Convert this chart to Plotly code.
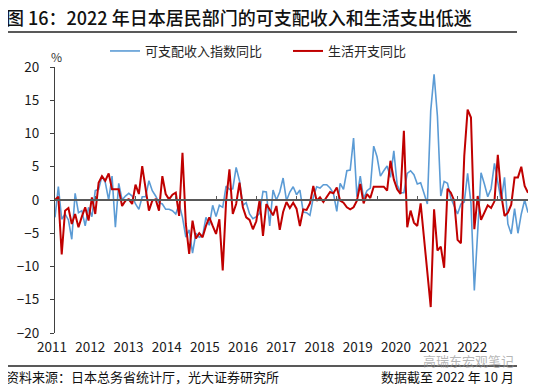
import plotly.graph_objects as go

# ---------------- data ----------------
months = [f"{2011 + k // 12}-{k % 12 + 1:02d}" for k in range(142)]  # 2011-01 ... 2022-10
years = [str(y) for y in range(2011, 2023)]

income_yoy = [
    -2.6, 2.0, -2.9, -2.1, -3.0, -5.9, 1.0, -1.9, -1.6, -3.9, -1.1, -2.5,
    1.4, 1.6, 3.6, 2.6, 0.0, 3.6, -4.1, 2.5, 0.0, 0.6, 1.0, 0.6,
    -0.6, -1.4, 0.5, 0.5, 2.9, 1.4, 0.6, -0.4, -0.6, -1.4, -1.4, -1.6,
    -2.1, -0.6, -2.6, -5.6, -4.5, -8.0, -5.0, -5.6, -5.4, -2.6, -3.8, -0.8,
    -2.5, -0.8, -1.1, 2.1, 1.6, 1.7, 4.9, 2.9, -0.8, -0.4, -2.1, -2.8,
    -2.5, -2.0, 1.3, 1.2, -3.9, 1.5, 0.0, 1.2, 3.3, -0.1, 1.2, 2.0,
    0.8, 1.5, -1.8, -1.9, -2.3, 0.4, 2.0, 1.8, 2.3, 2.3, 1.8, 1.0,
    -1.7, 2.5, 1.6, 4.4, 4.5, 9.3, 0.5, 3.6, 0.2, 1.4, 1.8, 8.1,
    6.5, 3.6, 4.4, 5.1, 3.4, 7.4, 2.3, 1.1, 1.1, 4.0, 4.4, 3.8,
    2.4, 2.6, 1.0, -0.6, 13.4, 18.9, 12.6, 0.6, 2.8, 2.5, 0.3, -0.9,
    -2.1, -0.6, -0.3, 4.0, -0.5, -13.6, -4.0, 4.1, 2.4, 0.5, 1.7, 5.5,
    2.7, -0.1, 3.4, -3.6, -5.1, -1.3, -5.0, -2.1, 0.0, -1.9,
]

spending_yoy = [
    0.0, 0.5, -8.2, -1.6, -1.2, -3.6, -2.1, -4.1, -2.5, -1.1, -3.1, 0.4,
    -2.1, 2.6, 3.6, 2.9, 4.0, 1.6, 1.6, 1.6, -0.9, -0.1, 0.1, -0.6,
    2.3, 0.9, 5.1, 1.6, -1.6, -0.1, 0.1, -1.6, 3.6, 0.9, 0.1, 0.8,
    1.1, -2.4, 7.1, -3.6, -8.1, -3.1, -5.8, -5.0, -5.6, -3.9, -2.6, -3.9,
    -5.1, -2.9, -10.6, -0.2, 4.6, -2.1, -0.6, 2.6, -1.1, -2.6, -3.0, -4.4,
    -3.2, 0.0, -5.4, -0.6, -1.4, -2.3, -0.9, -4.5, -1.8, -0.3, -1.2, -0.4,
    -1.3, -3.9, -1.4, -1.5, -0.5, 2.1, -0.1, 0.4, -0.3, 0.5, 1.2, 1.0,
    1.9, -0.1, -0.4, -1.1, -1.4, -1.1, -0.1, 2.4, -0.5, 0.9, 0.3, 2.0,
    2.0, 1.9, 2.0, 1.4, 5.9, 3.1, 1.6, 0.9, 10.4, -4.1, -1.6, -3.4,
    -3.9, -0.5, -5.6, -11.0, -16.1, -1.4, -7.6, -7.0, -10.2, 1.7, 1.1, -0.1,
    -6.0, -6.5, 6.6, 13.6, 12.4, -4.4, 0.6, -3.0, -2.0, -0.8, -1.2, -0.2,
    6.8, 0.9, -2.4, -1.9, -0.7, 3.4, 3.4, 5.0, 2.1, 1.1,
]

y_ticks = [20, 15, 10, 5, 0, -5, -10, -15, -20]

# ---------------- geometry helpers ----------------
OFF = 8                      # page body margin that offsets the figure
W, H = 550 - OFF, 388 - OFF
ML, MR, MT, MB = 55 - OFF, 22, 67 - OFF, 55
PW, PH = W - ML - MR, H - MT - MB
idx = list(range(len(months)))
n_last = len(months) - 1
PX_PER_MONTH = PW / n_last


def px_x(p):  # screen px -> paper fraction
    return (p - OFF - ML) / PW


def px_y(p):
    return (H - MB - (p - OFF)) / PH


# year label centres (Excel places them slightly off the yearly tick marks)
SHIFT_M = 3
label_pos = [-0.9 + 11.39 * k + SHIFT_M for k in range(len(years))]
tick_pos = list(range(0, len(months), 12))

FONT = "Noto Sans CJK SC, Noto Sans, sans-serif"
BLUE = "#5B9BD5"
RED = "#C00000"

fig = go.Figure()
fig.add_trace(go.Scatter(x=idx, y=income_yoy, mode="lines", name="可支配收入指数同比",
                         line=dict(color=BLUE, width=1.6), legend="legend"))
fig.add_trace(go.Scatter(x=idx, y=spending_yoy, mode="lines", name="生活开支同比",
                         line=dict(color=RED, width=2), legend="legend2"))
# carrier for the year-label axis (draws nothing)
fig.add_trace(go.Scatter(x=[0, n_last], y=[None, None], xaxis="x2", mode="lines",
                         showlegend=False, hoverinfo="skip"))

leg_common = dict(orientation="h", y=px_y(51), xanchor="left", yanchor="middle",
                  font=dict(size=13, color="#262626"), bgcolor="rgba(0,0,0,0)")

fig.update_layout(
    width=W, height=H,
    margin=dict(l=ML, r=MR, t=MT, b=MB, pad=0, autoexpand=False),
    paper_bgcolor="white", plot_bgcolor="white",
    font=dict(family=FONT, size=13, color="#1a1a1a"),
    showlegend=True,
    legend=dict(x=px_x(105), **leg_common),
    legend2=dict(x=px_x(288), **leg_common),
    xaxis=dict(range=[0, n_last], anchor="free", position=0.5, showline=True,
               linecolor="#595959", linewidth=1.5, ticks="inside", ticklen=3,
               tickcolor="#595959", tickwidth=1.2, tickvals=tick_pos, showticklabels=False,
               showgrid=False, zeroline=False),
    xaxis2=dict(range=[0, n_last], overlaying="x", anchor="y", side="bottom",
                tickvals=label_pos, ticktext=years, showline=False, ticks="",
                showgrid=False, zeroline=False, tickfont=dict(size=13.5, color="#1a1a1a"),
                ticklabelstandoff=4, ticklabelshift=-round(SHIFT_M * PX_PER_MONTH)),
    yaxis=dict(range=[-20, 20], tickvals=y_ticks, showline=True, linecolor="#404040",
               linewidth=1.2, ticks="outside", ticklen=4, tickcolor="#404040",
               showgrid=False, zeroline=False, tickfont=dict(size=13.5, color="#1a1a1a"),
               ticklabelstandoff=8),
)

ann = [
    dict(text="图 16：2022 年日本居民部门的可支配收入和生活支出低迷", x=px_x(4), y=px_y(17),
         xanchor="left", yanchor="middle", font=dict(size=18, color="#111111", weight=500)),
    dict(text="%", x=px_x(56), y=px_y(56), xanchor="center", yanchor="middle",
         font=dict(size=12, color="#333333")),
    dict(text="资料来源：日本总务省统计厅，光大证券研究所", x=px_x(4), y=px_y(377),
         xanchor="left", yanchor="middle", font=dict(size=13, color="#111111")),
    dict(text="数据截至 2022 年 10 月", x=px_x(516), y=px_y(377),
         xanchor="right", yanchor="middle", font=dict(size=13, color="#111111")),
    dict(text="高瑞东宏观笔记", x=px_x(516), y=px_y(361),
         xanchor="right", yanchor="middle", font=dict(size=13, color="rgba(150,150,150,0.7)")),
]
for a in ann:
    a.update(xref="paper", yref="paper", showarrow=False)
fig.update_layout(annotations=ann)

fig.update_layout(shapes=[
    dict(type="line", xref="paper", yref="paper", x0=px_x(3), x1=px_x(517), y0=px_y(32), y1=px_y(32),
         line=dict(color="#222222", width=1.5)),
    dict(type="line", xref="paper", yref="paper", x0=px_x(3), x1=px_x(517), y0=px_y(366), y1=px_y(366),
         line=dict(color="#222222", width=1.5)),
])

fig.write_html("out.html")
